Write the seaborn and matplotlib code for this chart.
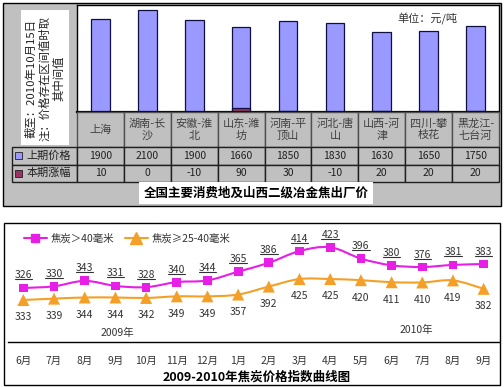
import numpy as np
import matplotlib
matplotlib.use("Agg")
import matplotlib.pyplot as plt
import seaborn as sns
from matplotlib.patches import Rectangle, PathPatch
from matplotlib.path import Path
from matplotlib.lines import Line2D
from matplotlib.table import Table

# ---- 数据 ----
regions = ["上海", "湖南-长\n沙", "安徽-淮\n北", "山东-潍\n坊", "河南-平\n顶山",
           "河北-唐\n山", "山西-河\n津", "四川-攀\n枝花", "黑龙江-\n七台河"]
last_price = [1900, 2100, 1900, 1660, 1850, 1830, 1630, 1650, 1750]
change = [10, 0, -10, 90, 30, -10, 20, 20, 20]
row_names = ["上期价格", "本期涨幅"]

months = ["6月", "7月", "8月", "9月", "10月", "11月", "12月",
          "1月", "2月", "3月", "4月", "5月", "6月", "7月", "8月", "9月"]
coke_big = [326, 330, 343, 331, 328, 340, 344, 365, 386, 414, 423, 396, 380, 376, 381, 383]
coke_mid = [333, 339, 344, 344, 342, 349, 349, 357, 392, 425, 425, 420, 411, 410, 419, 382]

BLUE = "#9999FF"
MAROON = "#993366"
MAGENTA = "#E61EE6"
ORANGE = "#F4A028"
GRAY = "#C0C0C0"
TXT = "#333333"

sns.set_style("white")
plt.rcParams["font.family"] = ["Noto Sans CJK SC", "DejaVu Sans"]

W, H = 504, 387
fig = plt.figure(figsize=(W / 100, H / 100), dpi=100)


def px_axes(x0, y0, x1, y1):
    return fig.add_axes([x0 / W, 1 - y1 / H, (x1 - x0) / W, (y1 - y0) / H])


def px_rect(x0, y0, x1, y1, **kw):
    r = Rectangle((x0 / W, 1 - y1 / H), (x1 - x0) / W, (y1 - y0) / H,
                  transform=fig.transFigure, **kw)
    fig.add_artist(r)
    return r


# ================= 上图：柱状图 + 数据表 =================
px_rect(3, 3, 501, 206, facecolor=GRAY, edgecolor="black", lw=1, zorder=-2)
px_rect(21, 10, 69, 145, facecolor="white", edgecolor="none", zorder=-1)
fig.text(45 / W, 1 - 78 / H, "截至：2010年10月15日\n注：价格存在区间值时取\n其中间值",
         rotation=90, ha="center", va="center", multialignment="center",
         fontsize=8.2, linespacing=1.3, color="#222222")

axb = px_axes(77, 5, 499, 112)
totals = [p + max(c, 0) for p, c in zip(last_price, change)]
sns.barplot(x=regions, y=totals, color=BLUE, saturation=1, width=0.4,
            edgecolor="#101040", linewidth=0.9, ax=axb)
sns.barplot(x=regions, y=change, color=MAROON, saturation=1, width=0.4,
            edgecolor="#101040", linewidth=0.9, ax=axb)
axb.set_xlim(-0.5, len(regions) - 0.5)
axb.set_ylim(0, 2200)
axb.set_xticks([])
axb.set_yticks([])
axb.set_xlabel("")
axb.set_ylabel("")
axb.set_facecolor("white")
for s in axb.spines.values():
    s.set_color("black")
    s.set_linewidth(1)
axb.spines["bottom"].set_linewidth(1.6)
axb.text(0.83, 0.87, "单位：元/吨", transform=axb.transAxes, ha="center",
         va="center", fontsize=8, color=TXT)

# 数据表
axt = px_axes(12, 112, 499, 182)
axt.axis("off")
tbl = Table(axt, bbox=[0, 0, 1, 1])
col_w, lab_w = 46.9, 65
for j, name in enumerate(regions):
    c = tbl.add_cell(0, j + 1, width=col_w, height=35, text=name, loc="center",
                     facecolor=GRAY, edgecolor="#505050")
    c.get_text().set_fontsize(8)
    c.get_text().set_color("#404040")
rows = [last_price, change]
for i, (lab, vals) in enumerate(zip(row_names, rows)):
    c = tbl.add_cell(i + 1, 0, width=lab_w, height=17.5, text=lab, loc="left",
                     facecolor=GRAY, edgecolor="#202020")
    c.PAD = 0.22
    c.get_text().set_fontsize(8)
    c.get_text().set_color("#202020")
    for j, v in enumerate(vals):
        c = tbl.add_cell(i + 1, j + 1, width=col_w, height=17.5, text=str(v),
                         loc="center", facecolor=GRAY, edgecolor="#202020")
        c.get_text().set_fontsize(7.5)
        c.get_text().set_color("#202020")
tbl.auto_set_font_size(False)
axt.add_table(tbl)
axt.scatter([0.013, 0.013], [0.375, 0.125], marker="s", s=26,
            c=[BLUE, MAROON], edgecolors="#202020", linewidths=0.6,
            transform=axt.transAxes, clip_on=False, zorder=5)

fig.text(256 / W, 1 - 193 / H, "全国主要消费地及山西二级冶金焦出厂价",
         ha="center", va="center", fontsize=9, fontweight="bold", color="black",
         bbox=dict(facecolor="white", edgecolor="none", pad=3))

# ================= 下图：折线图 =================
px_rect(4, 223, 500, 385, facecolor="white", edgecolor="black", lw=1, zorder=-2)

ax1 = px_axes(8, 224, 499, 342)
ax2 = ax1.twinx()
idx = np.arange(len(months))


def smooth(ax, xs, ys, color):
    pts = np.column_stack([xs, ys]).astype(float)
    n = len(pts)
    verts, codes = [pts[0]], [Path.MOVETO]
    for i in range(n - 1):
        p0 = pts[i - 1] if i > 0 else pts[i]
        p3 = pts[i + 2] if i + 2 < n else pts[i + 1]
        verts += [pts[i] + (pts[i + 1] - p0) / 6, pts[i + 1] - (p3 - pts[i]) / 6, pts[i + 1]]
        codes += [Path.CURVE4] * 3
    ax.add_patch(PathPatch(Path(verts, codes), fill=False, edgecolor=color, lw=1.5, zorder=2))


smooth(ax1, idx, coke_big, MAGENTA)
smooth(ax2, idx, coke_mid, ORANGE)
sns.scatterplot(x=idx, y=coke_big, marker="s", s=40, color=MAGENTA,
                edgecolor="none", ax=ax1, zorder=3)
sns.scatterplot(x=idx, y=coke_mid, marker="^", s=75, color=ORANGE,
                edgecolor="none", ax=ax2, zorder=3)

ax1.set_ylim(197.4, 478.4)
ax2.set_ylim(148.8, 666.3)
for a in (ax1, ax2):
    a.set_xlim(-0.5, len(months) - 0.5)
    a.set_yticks([])
    a.patch.set_visible(False)
    for s in a.spines.values():
        s.set_visible(False)
ax1.spines["bottom"].set_visible(True)
ax1.spines["bottom"].set_color("black")
ax1.spines["bottom"].set_linewidth(1)

ax1.set_xticks(np.arange(-0.5, len(months), 1))
ax1.set_xticklabels([])
ax1.set_xticks(idx, minor=True)
ax1.set_xticklabels(months, minor=True, fontsize=7.5, color=TXT)
ax1.tick_params(axis="x", which="major", direction="inout", length=3.5,
                width=1, color="black", bottom=True)
ax1.tick_params(axis="x", which="minor", length=0, pad=10)
ax2.set_xticks([])

big_labels = []
for x, v in zip(idx, coke_big):
    big_labels.append(ax1.annotate(str(v), (x, v), xytext=(0, 9), textcoords="offset points",
                                   ha="center", va="center", fontsize=7.5, color=TXT))
for x, v in zip(idx, coke_mid):
    ax2.annotate(str(v), (x, v), xytext=(0, -12.5), textcoords="offset points",
                 ha="center", va="center", fontsize=7.5, color=TXT)

ax1.text(3.05, 0.076, "2009年", transform=ax1.get_xaxis_transform(),
         ha="center", va="center", fontsize=7.5, color=TXT)
ax1.text(12.8, 0.10, "2010年", transform=ax1.get_xaxis_transform(),
         ha="center", va="center", fontsize=7.5, color=TXT)

handles = [Line2D([], [], color=MAGENTA, lw=1.5, marker="s", ms=6),
           Line2D([], [], color=ORANGE, lw=1.5, marker="^", ms=8)]
fig.legend(handles, ["焦炭＞40毫米", "焦炭≥25-40毫米"], loc="center left",
           bbox_to_anchor=(24 / W, 1 - 239 / H), ncol=2, frameon=False,
           fontsize=7.5, handlelength=2.2, handletextpad=0.4, columnspacing=1.0,
           borderaxespad=0, borderpad=0, labelcolor=TXT)

fig.text(257 / W, 1 - 377 / H, "2009-2010年焦炭价格指数曲线图", ha="center",
         va="center", fontsize=9, fontweight="bold", color="black")

# 下划线：标签位置由渲染结果确定
fig.canvas.draw()
for t in big_labels:
    bb = t.get_window_extent()
    y = (bb.y0 + 1) / (H)
    fig.add_artist(Line2D([bb.x0 / W, bb.x1 / W], [y, y], transform=fig.transFigure,
                          color=TXT, lw=0.8))

fig.savefig("out.png", dpi=100)
